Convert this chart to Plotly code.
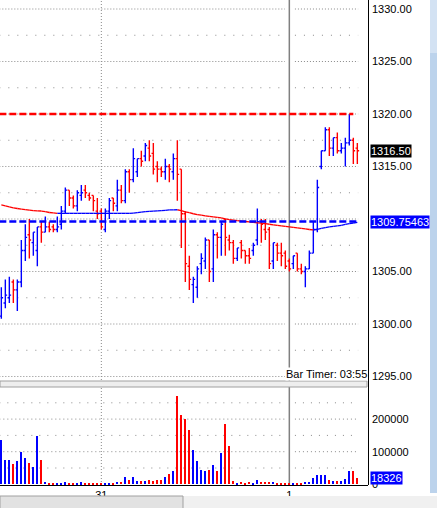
import plotly.graph_objects as go

# ---------------- data ----------------
bar_index = list(range(90))

opens = [1300.75, 1302.0, 1302.5, 1304.0, 1303.25, 1304.0, 1307.0, 1308.5, 1307.75, 1307.0,
         1309.25, 1308.75, 1309.25, 1309.25, 1309.0, 1309.5, 1310.75, 1312.75, 1312.0, 1311.25,
         1312.25, 1312.75, 1312.25, 1312.25, 1310.75, 1310.75, 1309.0, 1310.75, 1312.0, 1311.25,
         1312.75, 1311.75, 1314.5, 1313.75, 1314.5, 1315.75, 1316.0, 1316.75, 1316.25, 1315.0,
         1314.75, 1314.5, 1315.0, 1314.5, 1315.75, 1314.75, 1310.5, 1305.5, 1303.75, 1303.5,
         1305.75, 1306.0, 1308.0, 1305.25, 1308.5, 1308.25, 1310.0, 1308.0, 1307.75, 1306.25,
         1307.75, 1307.0, 1306.5, 1307.0, 1308.0, 1309.75, 1309.0, 1309.0, 1306.0, 1307.5,
         1306.75, 1306.75, 1306.0, 1305.75, 1306.75, 1305.25, 1305.0, 1305.25, 1306.75, 1309.0,
         1315.0, 1316.5, 1318.5, 1316.75, 1317.75, 1316.5, 1316.75, 1317.25, 1317.5, 1316.75]
highs = [1303.5, 1304.25, 1304.5, 1304.25, 1304.25, 1308.0, 1309.5, 1310.0, 1308.75, 1309.25,
         1309.75, 1310.25, 1309.75, 1309.5, 1310.25, 1311.25, 1313.0, 1312.75, 1312.25, 1312.75,
         1313.25, 1313.25, 1312.5, 1312.25, 1312.0, 1311.0, 1311.0, 1312.0, 1312.0, 1313.75,
         1313.25, 1314.75, 1314.75, 1316.75, 1315.75, 1316.5, 1317.25, 1317.5, 1317.25, 1315.5,
         1315.0, 1315.75, 1315.25, 1316.25, 1317.5, 1314.75, 1310.75, 1306.5, 1304.5, 1305.5,
         1306.75, 1308.25, 1308.0, 1309.0, 1308.75, 1309.75, 1310.0, 1308.5, 1308.0, 1307.25,
         1308.0, 1307.0, 1307.25, 1307.75, 1311.0, 1310.0, 1310.0, 1309.25, 1307.75, 1307.75,
         1307.75, 1307.0, 1306.25, 1306.5, 1306.75, 1305.75, 1305.5, 1307.0, 1309.75, 1313.75,
         1316.5, 1318.75, 1318.75, 1317.75, 1318.25, 1317.25, 1317.75, 1320.0, 1317.75, 1317.25]
lows = [1300.5, 1301.5, 1302.0, 1302.0, 1301.25, 1303.5, 1306.0, 1306.25, 1306.5, 1305.5,
        1307.75, 1308.75, 1308.75, 1308.75, 1308.75, 1309.0, 1310.5, 1311.25, 1311.0, 1310.75,
        1311.75, 1312.0, 1311.75, 1310.75, 1310.0, 1309.0, 1308.75, 1310.0, 1310.75, 1310.75,
        1311.5, 1311.5, 1312.5, 1313.5, 1314.0, 1315.0, 1315.5, 1315.5, 1314.25, 1313.5,
        1314.0, 1313.75, 1313.5, 1313.75, 1311.75, 1307.25, 1304.0, 1303.25, 1302.0, 1302.5,
        1304.75, 1305.25, 1304.0, 1304.0, 1306.25, 1306.5, 1306.5, 1307.0, 1305.75, 1306.0,
        1306.25, 1305.75, 1305.75, 1306.5, 1307.5, 1307.75, 1308.0, 1305.25, 1305.25, 1306.0,
        1305.5, 1305.25, 1305.0, 1305.25, 1305.0, 1304.75, 1303.5, 1305.25, 1306.75, 1308.75,
        1314.75, 1316.5, 1316.0, 1316.0, 1316.25, 1316.25, 1315.0, 1317.0, 1315.25, 1315.25]
closes = [1302.5, 1302.75, 1302.75, 1303.25, 1304.0, 1307.0, 1308.25, 1308.0, 1308.75, 1309.25,
          1308.75, 1309.25, 1309.0, 1309.0, 1309.25, 1310.75, 1312.75, 1312.0, 1311.25, 1312.5,
          1312.5, 1312.5, 1312.0, 1311.75, 1310.5, 1309.25, 1310.75, 1311.75, 1311.5, 1312.75,
          1311.75, 1314.5, 1313.75, 1315.75, 1315.75, 1315.5, 1317.0, 1316.0, 1314.75, 1314.75,
          1314.5, 1315.0, 1314.75, 1315.75, 1314.25, 1310.5, 1305.75, 1304.25, 1304.25, 1305.25,
          1306.25, 1308.0, 1305.0, 1308.5, 1308.25, 1309.5, 1308.25, 1307.75, 1306.25, 1307.25,
          1307.0, 1306.5, 1306.25, 1307.5, 1309.75, 1309.5, 1308.75, 1305.75, 1307.75, 1306.75,
          1306.5, 1305.5, 1305.25, 1306.5, 1305.25, 1305.0, 1305.25, 1306.75, 1309.0, 1313.0,
          1316.5, 1318.5, 1316.75, 1317.75, 1316.5, 1316.75, 1317.25, 1317.5, 1316.5, 1316.5]
volumes = [135000, 74500, 74500, 62000, 71500, 100000, 80500, 65000, 52000, 148000,
           74500, 7000, 3000, 3000, 3000, 3000, 6000, 3000, 3000, 3000,
           6000, 3000, 3000, 3000, 3000, 3000, 3000, 3000, 3000, 7000,
           7000, 21500, 13500, 21500, 10000, 10000, 10000, 13500, 10000, 13500,
           13500, 21500, 31500, 41000, 270000, 212000, 200000, 166000, 105000, 71500,
           44000, 41000, 44000, 59000, 41000, 97000, 185000, 117000, 10000, 4000,
           7000, 4000, 7000, 4000, 13500, 7000, 7000, 7000, 7000, 4000,
           4000, 4000, 3000, 4000, 4000, 4000, 7000, 7000, 19500, 28500,
           28500, 28500, 13500, 10000, 10000, 10000, 16500, 41000, 41000, 18326]
ma_values = [1311.35, 1311.25, 1311.15, 1311.05, 1311.0, 1310.95, 1310.9, 1310.85, 1310.8, 1310.78,
             1310.76, 1310.7, 1310.62, 1310.58, 1310.54, 1310.54, 1310.54, 1310.54, 1310.54, 1310.54,
             1310.54, 1310.54, 1310.54, 1310.54, 1310.54, 1310.54, 1310.54, 1310.54, 1310.54, 1310.54,
             1310.54, 1310.54, 1310.54, 1310.56, 1310.6, 1310.65, 1310.7, 1310.72, 1310.75, 1310.78,
             1310.8, 1310.83, 1310.86, 1310.87, 1310.88, 1310.8, 1310.68, 1310.6, 1310.5, 1310.42,
             1310.37, 1310.3, 1310.25, 1310.2, 1310.15, 1310.1, 1310.02, 1309.95, 1309.9, 1309.85,
             1309.8, 1309.76, 1309.72, 1309.68, 1309.64, 1309.6, 1309.55, 1309.5, 1309.45, 1309.4,
             1309.35, 1309.3, 1309.25, 1309.2, 1309.15, 1309.1, 1309.05, 1309.0, 1308.96, 1309.02,
             1309.1, 1309.18, 1309.24, 1309.3, 1309.34, 1309.4, 1309.48, 1309.55, 1309.62, 1309.68]

x_tick_vals = [25, 72]
x_tick_text = ["31", "1"]
price_ticks = [1295, 1300, 1305, 1315, 1320, 1325, 1330]
price_grid_major = [1295, 1300, 1305, 1310, 1315, 1320, 1325, 1330]
price_grid_minor = [1297.5, 1302.5, 1307.5, 1312.5, 1317.5, 1322.5, 1327.5]
vol_ticks = [0, 100000, 200000]
vol_grid_major = [100000, 200000]
vol_grid_minor = [50000, 150000, 250000]
resistance_level = 1320.0
pivot_level = 1309.75463
last_price = 1316.50
last_volume = 18326
bar_timer_text = "Bar Timer: 03:55"

# ---------------- styling ----------------
W, H = 437, 508
ML, MR, MT, MB = 0, 69, 0, 23
PW = W - ML - MR          # 368
PH = H - MT - MB          # 485
BLUE = "#0000ff"
RED = "#ff0000"
GRID = "#8a8a8a"
FONT = "Liberation Sans, Arial, sans-serif"
X_RANGE = [-1 / 3, 91 + 2 / 3]   # 4 px per bar

def py(p):                # pixel row -> paper y
    return (PH - p) / PH

def px(p):                # pixel column -> paper x
    return p / PW

up = [c >= o for o, c in zip(opens, closes)]
vol_colors = [BLUE if u else RED for u in up]

fig = go.Figure()

fig.add_trace(go.Ohlc(
    x=bar_index, open=opens, high=highs, low=lows, close=closes,
    increasing=dict(line=dict(color=BLUE, width=1.4)),
    decreasing=dict(line=dict(color=RED, width=1.4)),
    tickwidth=0.45, hoverinfo="skip", xaxis="x", yaxis="y", showlegend=False))

# moving average, coloured by slope
mx_r, my_r, mx_b, my_b = [], [], [], []
for i in range(len(ma_values) - 1):
    seg_x = [bar_index[i], bar_index[i + 1], None]
    seg_y = [ma_values[i], ma_values[i + 1], None]
    if ma_values[i + 1] < ma_values[i]:
        mx_r += seg_x; my_r += seg_y
    else:
        mx_b += seg_x; my_b += seg_y
fig.add_trace(go.Scatter(x=mx_r, y=my_r, mode="lines", line=dict(color=RED, width=1.3),
                         hoverinfo="skip", showlegend=False, xaxis="x", yaxis="y"))
fig.add_trace(go.Scatter(x=mx_b, y=my_b, mode="lines", line=dict(color=BLUE, width=1.3),
                         hoverinfo="skip", showlegend=False, xaxis="x", yaxis="y"))

fig.add_trace(go.Bar(x=bar_index, y=volumes, marker=dict(color=vol_colors, line=dict(width=0)),
                     width=0.3, hoverinfo="skip", showlegend=False, xaxis="x2", yaxis="y2"))

shapes = []
# horizontal dotted grid, split around the day separator
segments = [(-0.5, 70.9), (73.4, 89.2)]
for lvl in price_grid_major:
    for a, b in segments:
        shapes.append(dict(type="line", xref="x", yref="y", x0=a, x1=b, y0=lvl, y1=lvl,
                           line=dict(color=GRID, width=1, dash="1px,2px"), layer="below"))
for lvl in price_grid_minor:
    for a, b in segments:
        shapes.append(dict(type="line", xref="x", yref="y", x0=a, x1=b, y0=lvl, y1=lvl,
                           line=dict(color=GRID, width=1, dash="1px,8px"), layer="below"))
for lvl in vol_grid_major:
    for a, b in segments:
        shapes.append(dict(type="line", xref="x2", yref="y2", x0=a, x1=b, y0=lvl, y1=lvl,
                           line=dict(color=GRID, width=1, dash="1px,3px"), layer="below"))
for lvl in vol_grid_minor:
    for a, b in segments:
        shapes.append(dict(type="line", xref="x2", yref="y2", x0=a, x1=b, y0=lvl, y1=lvl,
                           line=dict(color=GRID, width=1, dash="1px,7px"), layer="below"))
# vertical day lines
shapes.append(dict(type="line", xref="x", yref="paper", x0=x_tick_vals[0], x1=x_tick_vals[0],
                   y0=0, y1=1, line=dict(color=GRID, width=1, dash="1px,2px"), layer="below"))
shapes.append(dict(type="line", xref="x", yref="paper", x0=x_tick_vals[1], x1=x_tick_vals[1],
                   y0=0, y1=1, line=dict(color="#808080", width=1.5), layer="below"))
# level lines
shapes.append(dict(type="line", xref="x", yref="y", x0=-0.5, x1=88.0,
                   y0=resistance_level, y1=resistance_level,
                   line=dict(color=RED, width=2.5, dash="7px,3px")))
shapes.append(dict(type="line", xref="x", yref="y", x0=-0.5, x1=88.8,
                   y0=pivot_level, y1=pivot_level,
                   line=dict(color=BLUE, width=2.5, dash="7px,3px")))
# panel separator
shapes.append(dict(type="rect", xref="paper", yref="paper", x0=0, x1=px(367),
                   y0=py(387), y1=py(381), fillcolor="#eeeeee",
                   line=dict(color="#a0a0a0", width=1)))
# right axis line
shapes.append(dict(type="line", xref="paper", yref="paper", x0=px(368.5), x1=px(368.5),
                   y0=py(485), y1=1, line=dict(color="black", width=1)))
# right blue strip
shapes.append(dict(type="rect", xref="paper", yref="paper", x0=px(430), x1=px(437),
                   y0=py(493), y1=1, fillcolor="#bcd3ec", line=dict(width=0)))
shapes.append(dict(type="rect", xref="paper", yref="paper", x0=px(430), x1=px(437),
                   y0=py(53), y1=1, fillcolor="#d3e2f3", line=dict(width=0)))
# bottom scroll bar
shapes.append(dict(type="rect", xref="paper", yref="paper", x0=0, x1=px(437),
                   y0=py(508), y1=py(496), fillcolor="#f0f0f0", line=dict(width=0)))
shapes.append(dict(type="rect", xref="paper", yref="paper", x0=0, x1=px(183),
                   y0=py(509), y1=py(496), fillcolor="#e2e2e2",
                   line=dict(color="#a0a0a0", width=1)))

annotations = [
    dict(xref="paper", yref="y", x=1, y=last_price, xanchor="left", yanchor="middle",
         xshift=2, text=f"{last_price:.2f}", showarrow=False, bgcolor="black",
         font=dict(color="white", size=11, family=FONT), borderpad=0),
    dict(xref="paper", yref="y", x=1, y=pivot_level, xanchor="left", yanchor="middle",
         xshift=2, text=f"{pivot_level:.5f}", showarrow=False, bgcolor=BLUE,
         font=dict(color="white", size=11, family=FONT), borderpad=0),
    dict(xref="paper", yref="y2", x=1, y=last_volume, xanchor="left", yanchor="middle",
         xshift=2, text=str(last_volume), showarrow=False, bgcolor=BLUE,
         font=dict(color="white", size=11, family=FONT), borderpad=0),
    dict(xref="paper", yref="paper", x=px(368), y=py(373.5), xanchor="right", yanchor="middle",
         text=bar_timer_text, showarrow=False, bgcolor="white",
         font=dict(color="black", size=11, family=FONT), borderpad=0),
]

fig.update_layout(
    width=W, height=H,
    margin=dict(l=ML, r=MR, t=MT, b=MB, pad=0),
    paper_bgcolor="white", plot_bgcolor="white",
    font=dict(family=FONT, size=11, color="black"),
    showlegend=False, bargap=0,
    xaxis=dict(domain=[0, 1], range=X_RANGE, anchor="y",
               showgrid=False, zeroline=False, showticklabels=False, ticks="",
               rangeslider=dict(visible=False), fixedrange=True),
    xaxis2=dict(domain=[0, 1], range=X_RANGE, anchor="y2", matches="x",
                showgrid=False, zeroline=False, tickvals=x_tick_vals, ticktext=x_tick_text,
                ticks="", showline=True, linecolor="black", linewidth=1,
                tickfont=dict(size=11, color="black"), ticklabelstandoff=0),
    yaxis=dict(domain=[py(381), 1], range=[1330 - (381 - 9) / 10.5, 1330 + 9 / 10.5],
               anchor="x", side="right", showgrid=False, zeroline=False, ticks="",
               tickvals=price_ticks, ticktext=[f"{v:.2f}" for v in price_ticks],
               tickfont=dict(size=11, color="black"), ticklabelstandoff=3),
    yaxis2=dict(domain=[0, py(388)], range=[-2150, 295400], anchor="x2", side="right",
                showgrid=False, zeroline=False, ticks="",
                tickvals=vol_ticks, ticktext=[str(v) for v in vol_ticks],
                tickfont=dict(size=11, color="black"), ticklabelstandoff=3),
    shapes=shapes, annotations=annotations,
)

fig.write_html("out.html", config={"displayModeBar": False},
               post_script="document.body.style.margin='0';document.body.style.overflow='hidden';")
